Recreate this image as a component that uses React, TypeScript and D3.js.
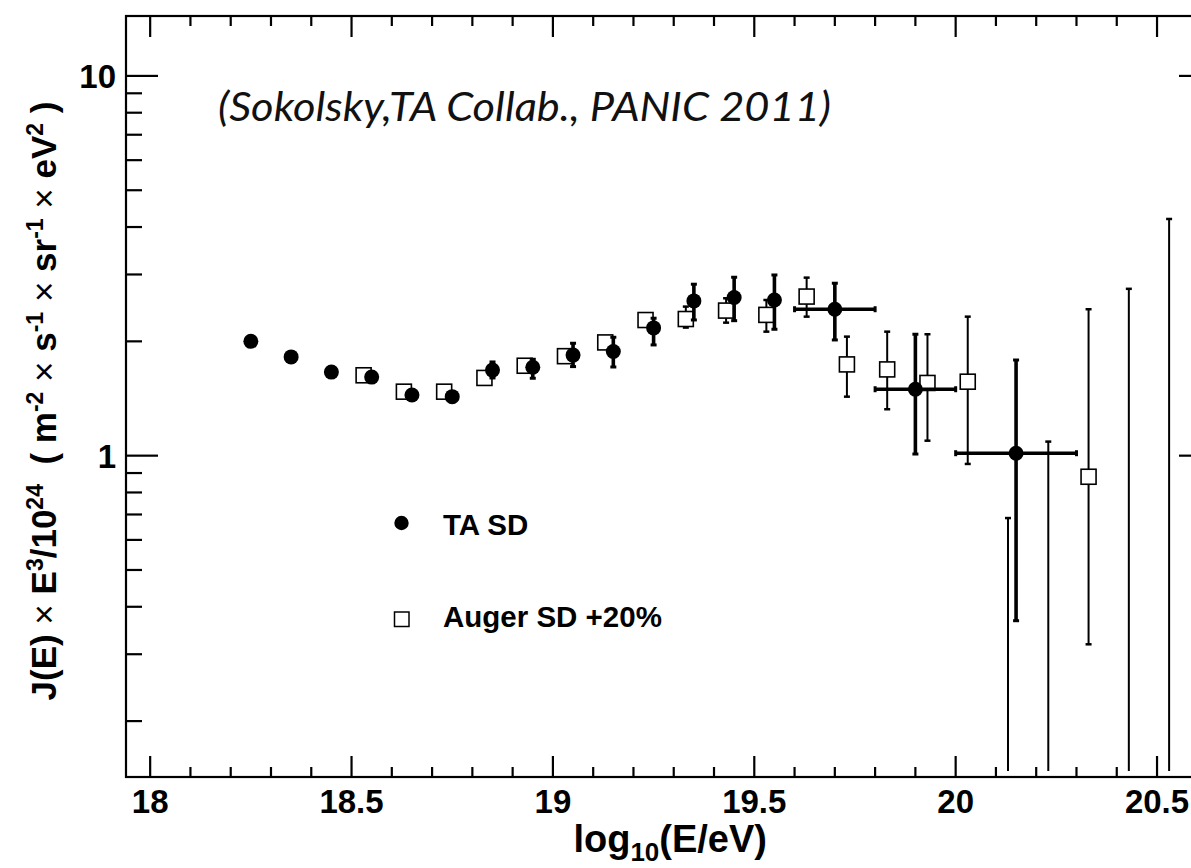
import React from "react";
import * as d3 from "d3";

// ---------- data ----------
const taX = [18.25, 18.35, 18.45, 18.55, 18.65, 18.75, 18.85, 18.95, 19.05, 19.15, 19.25, 19.35, 19.45, 19.55, 19.7, 19.9, 20.15];
const taY = [2.0, 1.82, 1.66, 1.61, 1.445, 1.43, 1.68, 1.71, 1.84, 1.88, 2.17, 2.556, 2.61, 2.57, 2.43, 1.496, 1.015];
const taYHi = [2.0, 1.82, 1.66, 1.61, 1.445, 1.43, 1.765, 1.794, 1.977, 2.05, 2.301, 2.828, 2.95, 2.991, 2.845, 2.088, 1.786];
const taYLo = [2.0, 1.82, 1.66, 1.61, 1.445, 1.43, 1.602, 1.599, 1.716, 1.712, 1.957, 2.277, 2.267, 2.152, 2.017, 1.01, 0.3676];
const taXErr = [0, 0, 0, 0, 0, 0, 0, 0, 0, 0, 0, 0, 0, 0, 0.1, 0.1, 0.15];

const augerX = [18.53, 18.63, 18.73, 18.83, 18.93, 19.03, 19.13, 19.23, 19.33, 19.43, 19.53, 19.63, 19.73, 19.83, 19.93, 20.03, 20.13, 20.23, 20.33, 20.43, 20.53];
const augerY: (number | null)[] = [1.628, 1.474, 1.474, 1.602, 1.725, 1.828, 1.987, 2.276, 2.29, 2.41, 2.348, 2.624, 1.739, 1.687, 1.554, 1.566, null, null, 0.88, null, null];
const augerYHi = [1.628, 1.474, 1.474, 1.602, 1.725, 1.828, 1.987, 2.276, 2.469, 2.597, 2.57, 2.943, 2.058, 2.121, 2.088, 2.323, 0.685, 1.089, 2.43, 2.75, 4.2];
const augerYLo = [1.628, 1.474, 1.474, 1.602, 1.725, 1.828, 1.987, 2.276, 2.174, 2.24, 2.121, 2.323, 1.43, 1.325, 1.095, 0.951, 0, 0, 0.3186, 0, 0];

const xMajorTicks = [18, 18.5, 19, 19.5, 20, 20.5];
const xTickLabels = ["18", "18.5", "19", "19.5", "20", "20.5"];
const xMinorTicks = [18.1, 18.2, 18.3, 18.4, 18.6, 18.7, 18.8, 18.9, 19.1, 19.2, 19.3, 19.4, 19.6, 19.7, 19.8, 19.9, 20.1, 20.2, 20.3, 20.4, 20.6];
const yMajorTicks = [1, 10];
const yTickLabels = ["1", "10"];
const yMinorTicks = [0.2, 0.3, 0.4, 0.5, 0.6, 0.7, 0.8, 0.9, 2, 3, 4, 5, 6, 7, 8, 9];

const legendLabels = ["TA SD", "Auger SD +20%"];
const annotation = "(Sokolsky,TA Collab., PANIC 2011)";

// ---------- layout ----------
const W = 1191, H = 868;
const L = 126, R = 1211, T = 16, B = 777;
const x = d3.scaleLinear().domain([17.94, 20.634]).range([L, R]);
const y = d3.scaleLog().domain([0.1425, 14.38]).range([B, T]);
const yc = (v: number) => (v <= 0 ? B : Math.min(B, y(v)));

const SANS = "'Liberation Sans', Arial, Helvetica, sans-serif";

export default function App() {
  const taR = 7.5;
  const sq = 15;
  const cap = 3;
  return (
    <svg width={W} height={H} style={{ position: "absolute", left: 0, top: 0, background: "#fff" }} xmlns="http://www.w3.org/2000/svg">
      <defs>
        <clipPath id="plotclip">
          <rect x={L} y={T} width={R - L} height={B - T} />
        </clipPath>
      </defs>
      <rect x={0} y={0} width={W} height={H} fill="#fff" />

      {/* annotation */}
      <text x={218} y={121} fontFamily="Lato, 'Open Sans', sans-serif" fontStyle="italic" fontWeight={400} fontSize={40} textLength={613} lengthAdjust="spacingAndGlyphs" fill="#111">
        {annotation}
      </text>

      {/* data */}
      <g clipPath="url(#plotclip)">
        {/* Auger error bars */}
        {augerX.map((xv, i) => {
          const cx = x(xv);
          const v = augerY[i];
          const hi = yc(augerYHi[i]);
          const lo = yc(augerYLo[i]);
          const segs: JSX.Element[] = [];
          if (v == null) {
            segs.push(<line key="a" x1={cx} x2={cx} y1={hi} y2={B - 6} stroke="#000" strokeWidth={2} />);
            segs.push(<line key="c" x1={cx - cap} x2={cx + cap} y1={hi} y2={hi} stroke="#000" strokeWidth={2.5} />);
          } else {
            const cy = y(v);
            if (hi < cy - sq / 2) {
              segs.push(<line key="u" x1={cx} x2={cx} y1={hi} y2={cy - sq / 2} stroke="#000" strokeWidth={2} />);
              segs.push(<line key="uc" x1={cx - cap} x2={cx + cap} y1={hi} y2={hi} stroke="#000" strokeWidth={2.5} />);
            }
            if (lo > cy + sq / 2) {
              segs.push(<line key="d" x1={cx} x2={cx} y1={cy + sq / 2} y2={lo} stroke="#000" strokeWidth={2} />);
              segs.push(<line key="dc" x1={cx - cap} x2={cx + cap} y1={lo} y2={lo} stroke="#000" strokeWidth={2.5} />);
            }
          }
          return <g key={"ae" + i}>{segs}</g>;
        })}
        {/* Auger markers */}
        {augerX.map((xv, i) => {
          const v = augerY[i];
          if (v == null) return null;
          return (
            <rect key={"am" + i} x={x(xv) - sq / 2} y={y(v) - sq / 2} width={sq} height={sq} fill="#fff" stroke="#000" strokeWidth={1.6} />
          );
        })}
        {/* TA error bars */}
        {taX.map((xv, i) => {
          const cx = x(xv);
          const cy = y(taY[i]);
          const hi = yc(taYHi[i]);
          const lo = yc(taYLo[i]);
          const segs: JSX.Element[] = [];
          if (cy - hi > 1) {
            segs.push(<line key="u" x1={cx} x2={cx} y1={hi} y2={cy} stroke="#000" strokeWidth={3.6} />);
            segs.push(<line key="uc" x1={cx - cap} x2={cx + cap} y1={hi} y2={hi} stroke="#000" strokeWidth={3} />);
          }
          if (lo - cy > 1) {
            segs.push(<line key="d" x1={cx} x2={cx} y1={cy} y2={lo} stroke="#000" strokeWidth={3.6} />);
            segs.push(<line key="dc" x1={cx - cap} x2={cx + cap} y1={lo} y2={lo} stroke="#000" strokeWidth={3} />);
          }
          if (taXErr[i] > 0) {
            const x0 = x(xv - taXErr[i]);
            const x1 = x(xv + taXErr[i]);
            segs.push(<line key="h" x1={x0} x2={x1} y1={cy} y2={cy} stroke="#000" strokeWidth={3.6} />);
            segs.push(<line key="hl" x1={x0} x2={x0} y1={cy - cap} y2={cy + cap} stroke="#000" strokeWidth={3} />);
            segs.push(<line key="hr" x1={x1} x2={x1} y1={cy - cap} y2={cy + cap} stroke="#000" strokeWidth={3} />);
          }
          return <g key={"te" + i}>{segs}</g>;
        })}
        {/* TA markers */}
        {taX.map((xv, i) => (
          <circle key={"tm" + i} cx={x(xv)} cy={y(taY[i])} r={taR} fill="#000" />
        ))}
      </g>

      {/* frame */}
      <rect x={L} y={T} width={R - L} height={B - T} fill="none" stroke="#000" strokeWidth={2.2} />

      {/* x ticks bottom and top */}
      {xMajorTicks.map((t) => (
        <g key={"xM" + t}>
          <line x1={x(t)} x2={x(t)} y1={B} y2={B - 21} stroke="#000" strokeWidth={2.2} />
          <line x1={x(t)} x2={x(t)} y1={T} y2={T + 21} stroke="#000" strokeWidth={2.2} />
        </g>
      ))}
      {xMinorTicks.map((t) => (
        <g key={"xm" + t}>
          <line x1={x(t)} x2={x(t)} y1={B} y2={B - 10} stroke="#000" strokeWidth={2.2} />
          <line x1={x(t)} x2={x(t)} y1={T} y2={T + 10} stroke="#000" strokeWidth={2.2} />
        </g>
      ))}
      {xMajorTicks.map((t, i) => (
        <text key={"xl" + t} x={x(t)} y={813} textAnchor="middle" fontFamily={SANS} fontWeight={700} fontSize={33} fill="#000">
          {xTickLabels[i]}
        </text>
      ))}

      {/* y ticks left and right */}
      {yMajorTicks.map((t) => (
        <g key={"yM" + t}>
          <line x1={L} x2={L + 32} y1={y(t)} y2={y(t)} stroke="#000" strokeWidth={2.2} />
          <line x1={R} x2={R - 32} y1={y(t)} y2={y(t)} stroke="#000" strokeWidth={2.2} />
        </g>
      ))}
      {yMinorTicks.map((t) => (
        <g key={"ym" + t}>
          <line x1={L} x2={L + 16} y1={y(t)} y2={y(t)} stroke="#000" strokeWidth={2.2} />
          <line x1={R} x2={R - 16} y1={y(t)} y2={y(t)} stroke="#000" strokeWidth={2.2} />
        </g>
      ))}
      {yMajorTicks.map((t, i) => (
        <text key={"yl" + t} x={116} y={y(t) + 12.5} textAnchor="end" fontFamily={SANS} fontWeight={700} fontSize={33} fill="#000">
          {yTickLabels[i]}
        </text>
      ))}

      {/* x title */}
      <text x={767} y={852} textAnchor="end" fontFamily={SANS} fontWeight={700} fontSize={38} fill="#000">
        log<tspan fontSize={26} dy={9}>10</tspan>
        <tspan dy={-9}>(E/eV)</tspan>
      </text>

      {/* y title */}
      <text transform="translate(56,401) rotate(-90)" textAnchor="middle" fontFamily={SANS} fontWeight={700} fontSize={35} fill="#000">
        J(E)<tspan fontWeight={400}> × </tspan>E<tspan fontSize={23} dy={-13}>3</tspan>
        <tspan dy={13}>/10</tspan>
        <tspan fontSize={23} dy={-13}>24</tspan>
        <tspan dy={13}>{"\u00A0\u00A0( m"}</tspan>
        <tspan fontSize={23} dy={-13}>-2</tspan>
        <tspan dy={13} fontWeight={400}> × </tspan>
        <tspan>s</tspan>
        <tspan fontSize={23} dy={-13}>-1</tspan>
        <tspan dy={13} fontWeight={400}> × </tspan>
        <tspan>sr</tspan>
        <tspan fontSize={23} dy={-13}>-1</tspan>
        <tspan dy={13} fontWeight={400}> × </tspan>
        <tspan>eV</tspan>
        <tspan fontSize={23} dy={-13}>2</tspan>
        <tspan dy={13}>{" )"}</tspan>
      </text>

      {/* legend */}
      <circle cx={401.5} cy={523} r={7.2} fill="#000" />
      <text x={443} y={535} fontFamily={SANS} fontWeight={700} fontSize={29.5} fill="#000">{legendLabels[0]}</text>
      <rect x={394.5} y={612} width={14.5} height={14.5} fill="#fff" stroke="#000" strokeWidth={1.5} />
      <text x={443} y={627} fontFamily={SANS} fontWeight={700} fontSize={29.5} fill="#000">{legendLabels[1]}</text>
    </svg>
  );
}
